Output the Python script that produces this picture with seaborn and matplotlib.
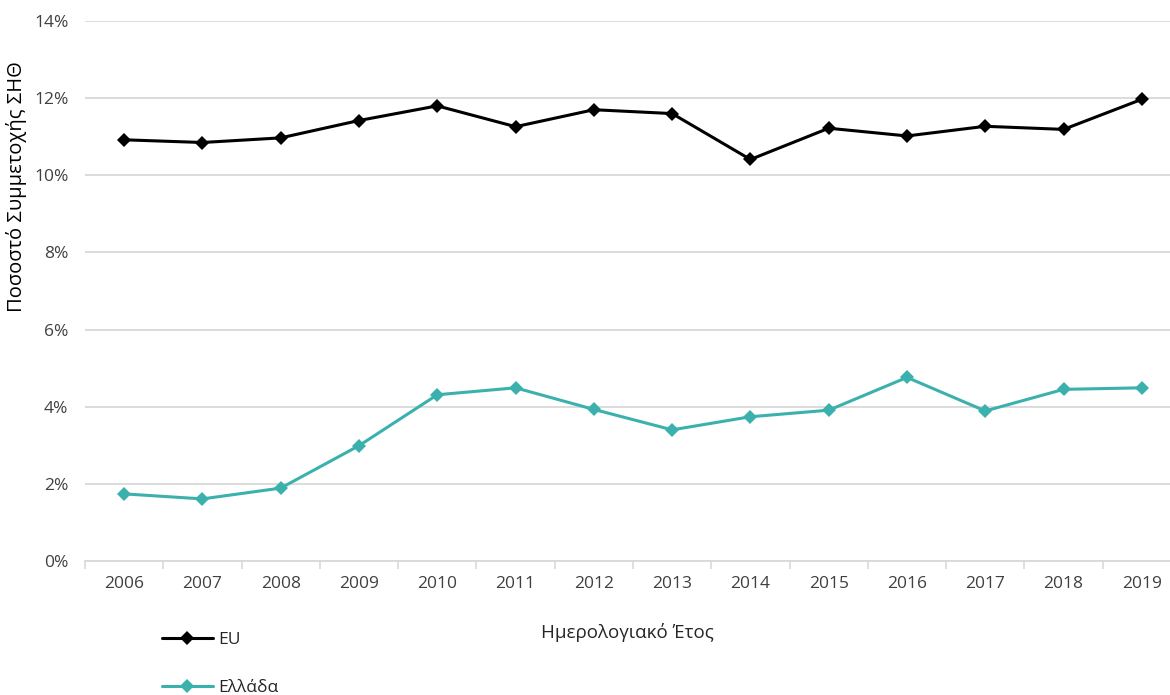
import matplotlib
matplotlib.use("Agg")
import matplotlib.pyplot as plt
import seaborn as sns
import pandas as pd
from matplotlib.ticker import FuncFormatter, FixedLocator

years = [2006, 2007, 2008, 2009, 2010, 2011, 2012, 2013, 2014, 2015, 2016, 2017, 2018, 2019]
eu = [10.92, 10.85, 10.97, 11.42, 11.80, 11.26, 11.70, 11.60, 10.41, 11.22, 11.02, 11.27, 11.19, 11.97]
greece = [1.74, 1.61, 1.89, 2.99, 4.31, 4.49, 3.93, 3.40, 3.74, 3.91, 4.76, 3.89, 4.45, 4.49]
series_names = ["EU", "Ελλάδα"]
colors = ["#000000", "#3BB1AD"]

df = pd.DataFrame({
    "pos": list(range(len(years))) * 2,
    "value": eu + greece,
    "series": [series_names[0]] * len(years) + [series_names[1]] * len(years),
})

sns.set_style("white")
plt.rcParams["font.family"] = ["Open Sans", "DejaVu Sans"]

W, H = 1170, 695
fig = plt.figure(figsize=(W / 100, H / 100), dpi=100)
# plot area runs slightly past the right edge of the canvas
ax = fig.add_axes([85 / W, 1 - 561 / H, (1181 - 85) / W, (561 - 21) / H])

sns.lineplot(data=df, x="pos", y="value", hue="series", palette=colors,
             marker="D", markersize=7, markeredgewidth=0, linewidth=2.2,
             ax=ax, legend=False)

ax.set_xlim(-0.5, len(years) - 0.5)
ax.set_ylim(0, 14)
ax.set_yticks(range(0, 15, 2))
ax.yaxis.set_major_formatter(FuncFormatter(lambda v, p: f"{v:.0f}%"))
ax.set_xticks(range(len(years)))
ax.set_xticklabels([str(y) for y in years])
ax.xaxis.set_minor_locator(FixedLocator([i - 0.5 for i in range(len(years) + 1)]))
ax.tick_params(axis="x", which="major", length=0, pad=11, labelsize=12.5, labelcolor="#404040")
ax.tick_params(axis="x", which="minor", length=6, color="#D9D9D9", width=1.2, direction="out", bottom=True)
ax.tick_params(axis="y", length=0, pad=12, labelsize=12.5, labelcolor="#404040")
ax.grid(axis="y", color="#D9D9D9", linewidth=1.3)
ax.set_axisbelow(True)
for s in ["top", "right", "left"]:
    ax.spines[s].set_visible(False)
ax.spines["bottom"].set_color("#D9D9D9")
ax.spines["bottom"].set_linewidth(1.3)

ax.set_xlabel("")
ax.set_ylabel("")
fig.text(627 / W, 1 - 632 / H, "Ημερολογιακό Έτος", fontsize=13.5, color="#262626",
         ha="center", va="center")
fig.text(17 / W, 1 - 187 / H, "Ποσοστό Συμμετοχής ΣΗΘ", fontsize=14.5, color="#000000",
         ha="center", va="center", rotation=90)

handles = [plt.Line2D([], [], color=c, marker="D", markersize=7, markeredgewidth=0, linewidth=2.2)
           for c in colors]
fig.legend(handles, series_names, loc="upper left", bbox_to_anchor=(157 / W, 1 - 627 / H),
           frameon=False, fontsize=12.5, handlelength=2.9, handletextpad=0.3,
           labelspacing=1.8, labelcolor="#262626", borderaxespad=0, borderpad=0.3)

fig.savefig("out.png", dpi=100)
